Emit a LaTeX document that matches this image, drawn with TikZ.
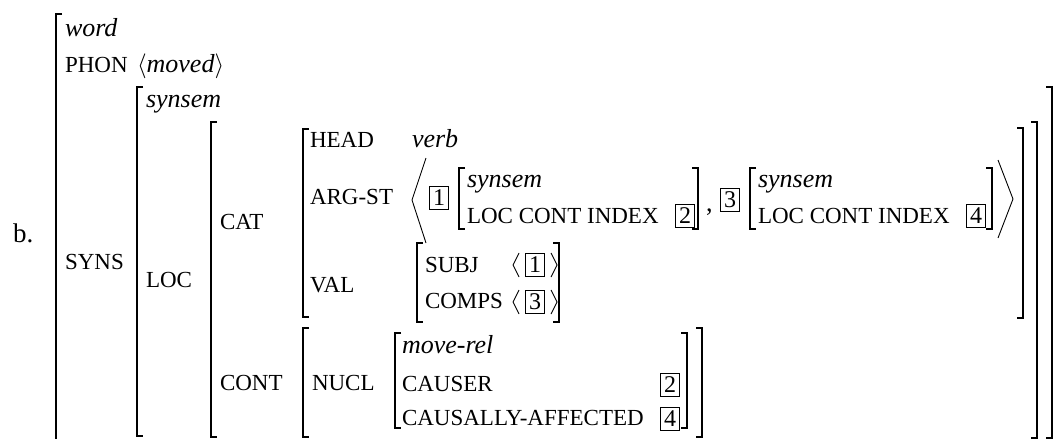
\documentclass[tikz,border=0pt]{standalone}
\usepackage{fontspec}
\setmainfont{Liberation Serif}
\newcommand\avmL[3]{\draw[brk] (#1+6,#2) -- (#1,#2) -- (#1,#3) -- (#1+6,#3);}
\newcommand\avmR[3]{\draw[brk] (#1-6,#2) -- (#1,#2) -- (#1,#3) -- (#1-6,#3);}
\begin{document}
\begin{tikzpicture}[x=1pt,y=-1pt,
  every node/.style={inner sep=0pt,outer sep=0pt},
  attr/.style={anchor=base west,font=\fontsize{23}{24}\selectfont},
  typ/.style={anchor=base west,font=\fontsize{26}{28}\selectfont\itshape},
  plain/.style={anchor=base west,font=\fontsize{26}{28}\selectfont},
  tagbox/.style={draw,line width=1.8pt,minimum width=19pt,minimum height=23pt,
    font=\fontsize{24}{24}\selectfont,anchor=center},
  brk/.style={line width=1.5pt},
  ang/.style={line width=0.9pt}]
\useasboundingbox (0,0) rectangle (1058,439);

% labels
\node[plain,font=\fontsize{27}{28}\selectfont] (lbl) at (13,242) {b.};
\node[typ] (word) at (65,36) {word};
\node[attr] (phon) at (65,72) {PHON};
\node[plain] (moved) at (137,72) {$\langle$\textit{moved}$\rangle$};
\node[typ] (synsem) at (146,107) {synsem};
\node[attr] (syns) at (65,269) {SYNS};
\node[attr] (loc) at (146,287) {LOC};
\node[attr] (cat) at (220,229) {CAT};
\node[attr] (cont) at (220,390) {CONT};
\node[attr] (head) at (310,147) {HEAD};
\node[typ] (verb) at (412,147) {verb};
\node[attr] (argst) at (310,204) {ARG-ST};
\node[attr] (val) at (310,292) {VAL};
% ARG-ST list
\node[tagbox] (t1) at (439,198) {1};
\node[typ] (ss1) at (467,187) {synsem};
\node[attr] (lci1) at (467,223) {LOC CONT INDEX};
\node[tagbox] (t2) at (685,216) {2};
\node[plain] (comma) at (706,211) {,};
\node[tagbox] (t3) at (730,200) {3};
\node[typ] (ss2) at (758,187) {synsem};
\node[attr] (lci2) at (758,223) {LOC CONT INDEX};
\node[tagbox] (t4) at (976,216) {4};
% VAL
\node[attr] (subj) at (425,272) {SUBJ};
\node[attr] (comps) at (425,308) {COMPS};
\node[tagbox] (s1) at (535,265) {1};
\node[tagbox] (c3) at (535,302) {3};
% CONT
\node[attr] (nucl) at (312,390) {NUCL};
\node[typ] (mrel) at (402,353) {move-rel};
\node[attr] (causer) at (402,391) {CAUSER};
\node[attr] (caff) at (402,425) {CAUSALLY-AFFECTED};
\node[tagbox] (c2) at (670,385) {2};
\node[tagbox] (c4) at (670,419) {4};

% left brackets
\draw[brk] (56+6,14) -- (56,14) -- (56,439);
\avmL{137}{87}{436}
\avmL{211}{122}{437}
\avmL{303}{129}{317}
\avmL{303}{328}{437}
\avmL{459}{168}{229}
\avmL{750}{168}{229}
\avmL{417}{243}{322}
\avmL{395}{333}{428}
% right brackets
\avmR{698}{168}{229}
\avmR{992}{168}{229}
\avmR{559}{243}{322}
\avmR{687}{333}{428}
\avmR{702}{328}{437}
\avmR{1023}{128}{318}
\avmR{1037}{122}{438}
\avmR{1052}{87}{438}
% angle brackets
\draw[ang] (426,158) -- (412,200) -- (426,243);
\draw[ang] (998,160) -- (1013,199) -- (998,238);
\draw[ang] (519,253) -- (513,265) -- (519,277);
\draw[ang] (551,253) -- (557,265) -- (551,277);
\draw[ang] (519,290) -- (513,302) -- (519,314);
\draw[ang] (551,290) -- (557,302) -- (551,314);
\end{tikzpicture}
\end{document}
